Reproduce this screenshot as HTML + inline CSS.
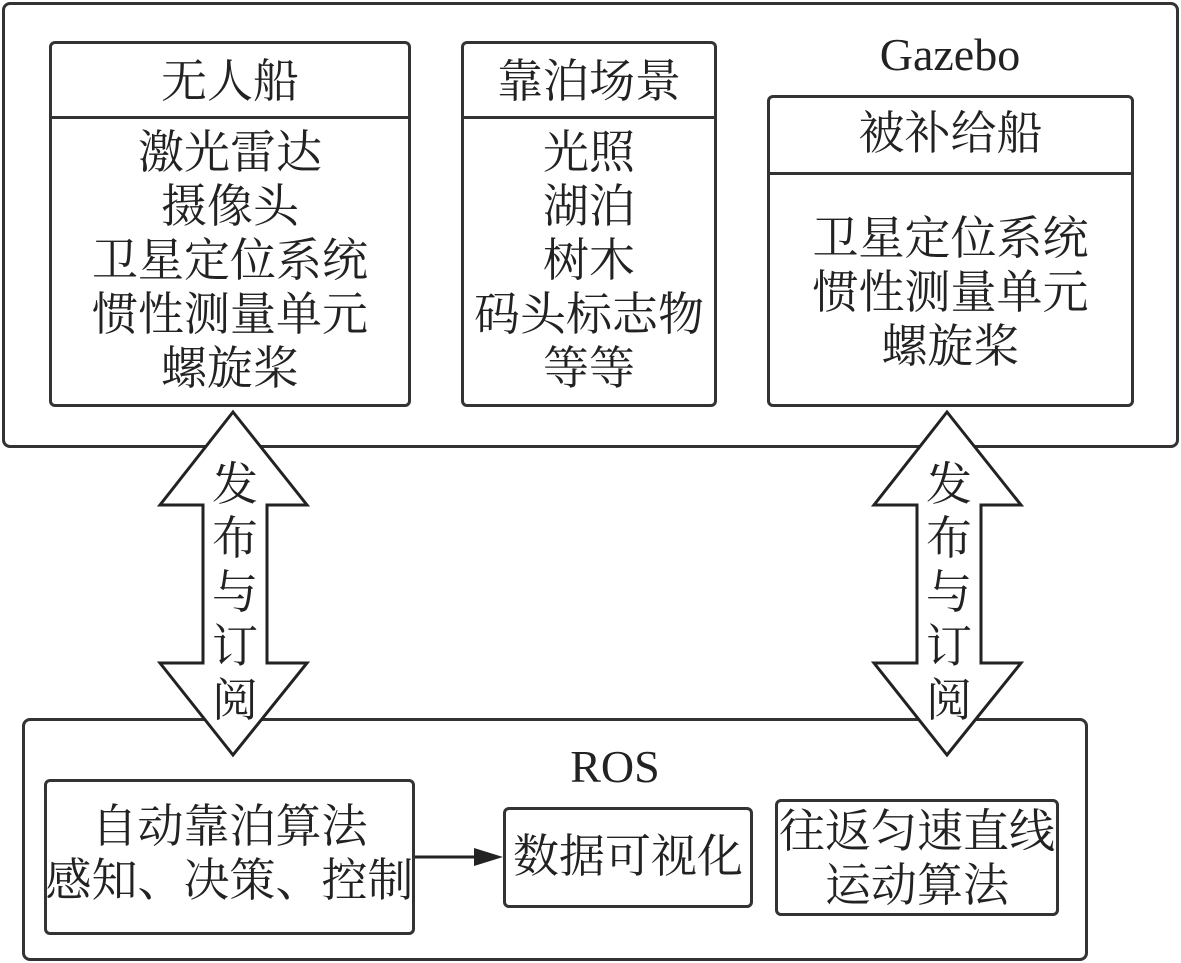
<!DOCTYPE html>
<html><head><meta charset="utf-8"><style>
body{margin:0;width:1181px;height:963px;background:#fff;overflow:hidden;position:relative;font-family:"Liberation Serif","Noto Serif CJK SC",serif;color:#222}
.b{position:absolute;border:3px solid #333;border-radius:6px;box-sizing:border-box;background:#fff}
.t{position:absolute;left:-20px;right:-20px;text-align:center;font-size:46px;line-height:54px;white-space:nowrap}
.h{position:absolute;left:0;right:0;border-top:3px solid #333}
</style></head><body>
<div class="b" style="left:2px;top:2px;width:1177px;height:446px;border-radius:8px"></div>
<div class="t" style="left:820px;right:auto;width:260px;top:28px;font-size:46px">Gazebo</div>

<div class="b" style="left:49px;top:41px;width:362px;height:366px">
 <div class="t" style="top:11px">无人船</div>
 <div class="h" style="top:72px"></div>
 <div class="t" style="top:82px">激光雷达<br>摄像头<br>卫星定位系统<br>惯性测量单元<br>螺旋桨</div>
</div>
<div class="b" style="left:461px;top:41px;width:256px;height:366px">
 <div class="t" style="top:11px">靠泊场景</div>
 <div class="h" style="top:72px"></div>
 <div class="t" style="top:82px">光照<br>湖泊<br>树木<br>码头标志物<br>等等</div>
</div>
<div class="b" style="left:767px;top:95px;width:367px;height:312px">
 <div class="t" style="top:9px">被补给船</div>
 <div class="h" style="top:74px"></div>
 <div class="t" style="top:114px">卫星定位系统<br>惯性测量单元<br>螺旋桨</div>
</div>

<div class="b" style="left:22px;top:718px;width:1066px;height:243px;border-radius:8px"></div>
<div class="t" style="left:500px;right:auto;width:230px;top:740px;font-size:46px">ROS</div>
<div class="b" style="left:44px;top:779px;width:371px;height:156px">
 <div class="t" style="top:18px">自动靠泊算法<br>感知、决策、控制</div>
</div>
<div class="b" style="left:503px;top:807px;width:250px;height:101px">
 <div class="t" style="top:20px">数据可视化</div>
</div>
<div class="b" style="left:775px;top:799px;width:284px;height:117px">
 <div class="t" style="top:3px">往返匀速直线<br>运动算法</div>
</div>

<svg width="1181" height="963" style="position:absolute;left:0;top:0">
 <line x1="415" y1="857" x2="480" y2="857" stroke="#222" stroke-width="3"/>
 <polygon points="503,857 474,848 474,866" fill="#222"/>
 <polygon points="233,412 307,505 267,505 267,663 307,663 233,755 160,663 203,663 203,505 160,505" fill="#fff" stroke="#222" stroke-width="3" stroke-linejoin="miter"/>
 <polygon points="947,412 1021,505 981,505 981,663 1021,663 947,755 874,663 917,663 917,505 874,505" fill="#fff" stroke="#222" stroke-width="3" stroke-linejoin="miter"/>
</svg>
<div class="t" style="left:208px;right:auto;width:54px;top:458px;font-size:46px;line-height:54px;white-space:normal">发<br>布<br>与<br>订<br>阅</div>
<div class="t" style="left:922px;right:auto;width:54px;top:458px;font-size:46px;line-height:54px;white-space:normal">发<br>布<br>与<br>订<br>阅</div>
</body></html>
